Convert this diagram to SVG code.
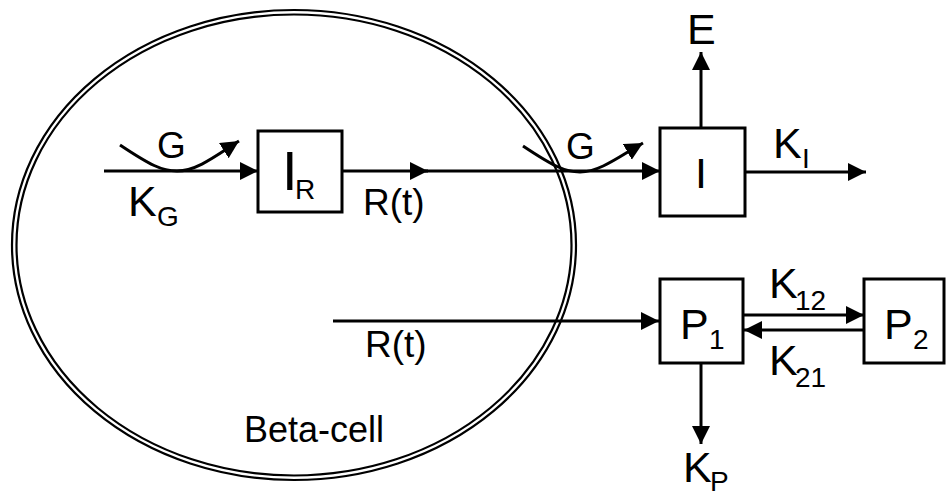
<svg xmlns="http://www.w3.org/2000/svg" width="947" height="496" viewBox="0 0 947 496">
<defs>
<marker id="ah" markerUnits="userSpaceOnUse" markerWidth="20" markerHeight="20" refX="18" refY="9" orient="auto">
<path d="M0,0 L18,9 L0,18 z" fill="#000"/>
</marker>
<style>
.ln{stroke:#000;stroke-width:3;fill:none}
.ar{marker-end:url(#ah)}
.bx{fill:#fff;stroke:#000;stroke-width:3}
.cell{fill:none;stroke:#000;stroke-width:2.2}
text{font-family:"Liberation Sans",Arial,sans-serif;fill:#000}
.big{font-size:43px}
.mid{font-size:37px}
.sub{font-size:28px}
</style>
</defs>
<rect width="947" height="496" fill="#fff"/>
<g id="beta-cell">
<ellipse class="cell" cx="294" cy="245" rx="282" ry="235"/>
<ellipse class="cell" cx="294" cy="245" rx="277.5" ry="230.5"/>
<text x="244" y="442" style="font-size:36px">Beta-cell</text>
</g>
<g id="connectors">
<line class="ln ar" x1="104" y1="171" x2="258" y2="171"/>
<path class="ln ar" d="M120,145 C150,165 162,171 177,171 C197,171 217,155 239,141"/>
<line class="ln ar" x1="342" y1="171" x2="428" y2="171"/>
<line class="ln ar" x1="425" y1="171" x2="660" y2="171"/>
<path class="ln ar" d="M523,146 C553,166 565,172 580,172 C600,172 620,156 643,143"/>
<line class="ln ar" x1="701" y1="128" x2="701" y2="52"/>
<line class="ln ar" x1="745" y1="172" x2="866" y2="172"/>
<line class="ln ar" x1="333" y1="321" x2="659" y2="321"/>
<line class="ln ar" x1="743" y1="315" x2="864" y2="315"/>
<line class="ln ar" x1="864" y1="330" x2="744" y2="330"/>
<line class="ln ar" x1="701" y1="363" x2="701" y2="444"/>
</g>
<g id="labels">
<text class="mid" x="157" y="158">G</text>
<text class="big" x="128" y="216">K</text><text class="sub" x="157" y="226">G</text>
<text class="mid" x="363" y="215">R(t)</text>
<text class="mid" x="566" y="159">G</text>
<text class="big" x="687" y="44">E</text>
<text class="big" x="773" y="158">K</text><text class="sub" x="802" y="168">I</text>
<text class="mid" x="365" y="357">R(t)</text>
<text class="big" x="769" y="298">K</text><text class="sub" x="795" y="310">12</text>
<text class="big" x="769" y="375">K</text><text class="sub" x="795" y="387">21</text>
<text class="big" x="683" y="482">K</text><text class="sub" x="710" y="491">P</text>
</g>
<g id="node-IR">
<rect class="bx" x="258" y="131" width="84" height="81"/>
<text x="282" y="190" style="font-size:56px">I</text><text class="sub" x="295" y="199">R</text>
</g>
<g id="node-I">
<rect class="bx" x="660" y="128" width="85" height="88"/>
<text class="big" x="695" y="188">I</text>
</g>
<g id="node-P1">
<rect class="bx" x="660" y="279" width="83" height="84"/>
<text class="big" x="680" y="339">P</text><text class="sub" x="709" y="349">1</text>
</g>
<g id="node-P2">
<rect class="bx" x="864" y="279" width="80" height="84"/>
<text class="big" x="884" y="339">P</text><text class="sub" x="913" y="349">2</text>
</g>
</svg>
